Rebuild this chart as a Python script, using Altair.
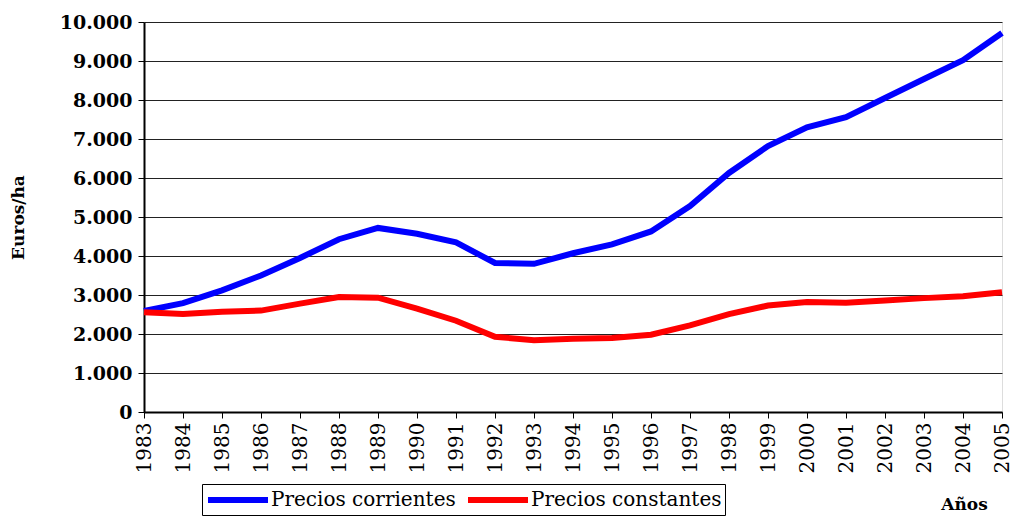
import altair as alt
import pandas as pd

years = list(range(1983, 2006))
corrientes = [2590, 2790, 3120, 3500, 3950, 4430, 4720, 4570, 4350, 3820, 3800,
              4070, 4300, 4630, 5280, 6130, 6820, 7300, 7560, 8050, 8540, 9020, 9720]
constantes = [2560, 2510, 2570, 2600, 2780, 2950, 2930, 2650, 2340, 1930, 1840,
              1880, 1900, 1980, 2220, 2510, 2730, 2820, 2800, 2860, 2920, 2970, 3070]
series_names = ["Precios corrientes", "Precios constantes"]
series_colors = ["#0000FF", "#FF0000"]
y_ticks = list(range(0, 10001, 1000))

rows = []
for name, vals in zip(series_names, [corrientes, constantes]):
    for yr, v in zip(years, vals):
        rows.append({"Año": yr, "Valor": v, "Serie": name})
df = pd.DataFrame(rows)

FONT = "DejaVu Serif"

chart = alt.Chart(df).mark_line(strokeWidth=6, strokeCap="butt", strokeJoin="miter").encode(
    x=alt.X("Año:Q",
            scale=alt.Scale(domain=[1983, 2005], nice=False, zero=False),
            axis=alt.Axis(values=years, format="d", labelAngle=-90, labelAlign="right",
                          labelBaseline="middle", labelFontSize=20, labelFont=FONT,
                          labelColor="black", labelPadding=4, tickSize=6, tickColor="black",
                          tickWidth=1, domainColor="black", domainWidth=2, grid=False,
                          labelOverlap=False,
                          title="Años", titleFont=FONT, titleFontSize=17, titleFontWeight="bold",
                          titleX=820, titleY=92, titleAlign="center", titleBaseline="middle",
                          titleColor="black")),
    y=alt.Y("Valor:Q",
            scale=alt.Scale(domain=[0, 10000], nice=False),
            axis=alt.Axis(values=y_ticks,
                          labelExpr="replace(format(datum.value, ','), ',', '.')",
                          labelFontSize=19, labelFont=FONT, labelFontWeight="bold",
                          labelColor="black", labelPadding=6, tickSize=6, tickColor="black",
                          tickWidth=1, domainColor="black", domainWidth=2,
                          grid=True, gridColor="#222222", gridWidth=1,
                          title="Euros/ha", titleFont=FONT, titleFontSize=17,
                          titleFontWeight="bold", titleColor="black",
                          titleX=-126, titleY=195, titleAlign="center",
                          titleBaseline="middle", titleAngle=-90)),
    color=alt.Color("Serie:N",
                    scale=alt.Scale(domain=series_names, range=series_colors),
                    legend=alt.Legend(orient="none", legendX=58, legendY=462,
                                      direction="horizontal", title=None,
                                      symbolType="M-1,0H5", symbolSize=400,
                                      symbolStrokeWidth=6, symbolFillColor="transparent",
                                      labelFont=FONT,
                                      labelFontSize=20, labelColor="black",
                                      labelOffset=40, columnPadding=0,
                                      strokeColor="black", padding=3,
                                      fillColor="white", labelLimit=400)),
).properties(
    width=858,
    height=390,
    padding={"left": 136, "top": 14, "right": 10, "bottom": 104},
    autosize=alt.AutoSizeParams(type="none"),
).configure_view(
    stroke="black", strokeWidth=2
).configure(background="white")

chart.save("out.html", embed_options={"renderer": "svg", "actions": False})
